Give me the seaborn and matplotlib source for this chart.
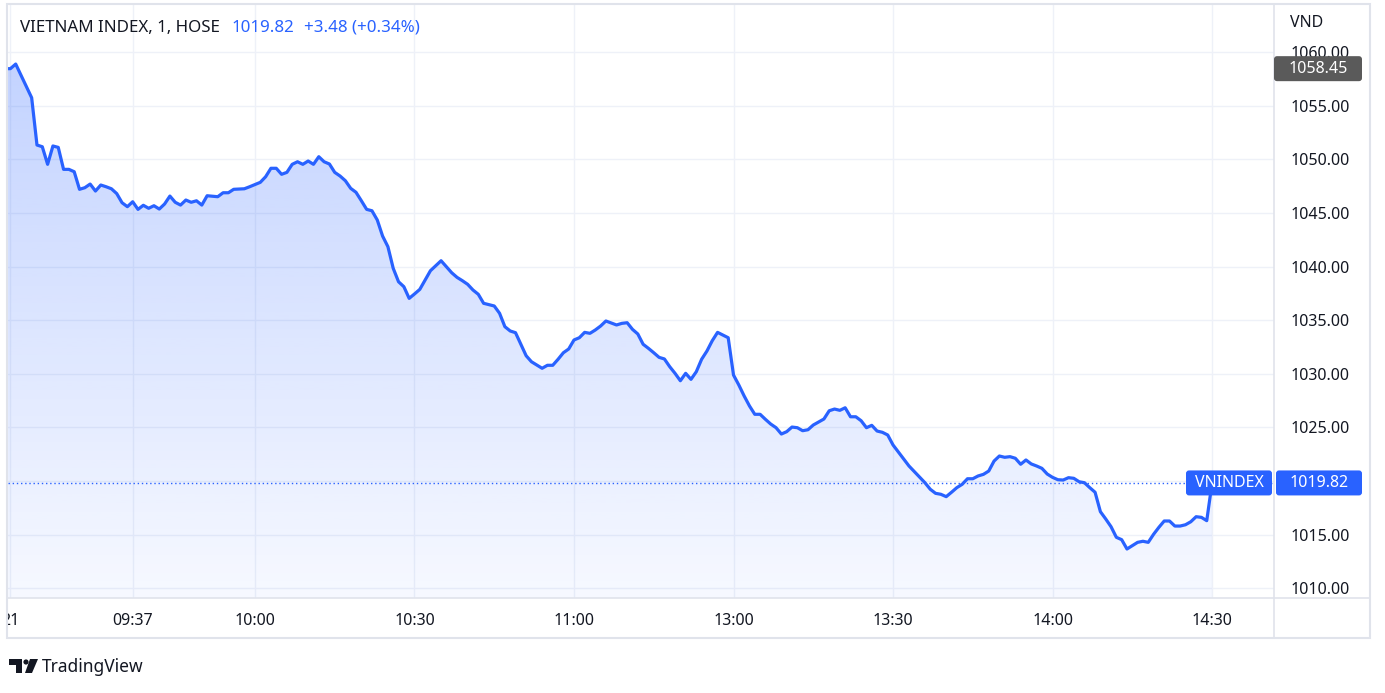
import numpy as np
import pandas as pd
import matplotlib
matplotlib.use('Agg')
import matplotlib.pyplot as plt
import seaborn as sns
from matplotlib.patches import Rectangle, FancyBboxPatch, Polygon, Circle, PathPatch
from matplotlib.lines import Line2D
from matplotlib.transforms import IdentityTransform

W, H = 1385, 693

# data (1 minute bars, only the visible corners of the line)
times = [
    '09:13', '09:14', '09:15', '09:18', '09:19', '09:20', '09:21', '09:22', '09:23', '09:24',
    '09:25', '09:26', '09:27', '09:28', '09:29', '09:30', '09:31', '09:32', '09:33', '09:34',
    '09:35', '09:36', '09:37', '09:38', '09:39', '09:40', '09:41', '09:42', '09:43', '09:44',
    '09:45', '09:46', '09:47', '09:48', '09:49', '09:50', '09:51', '09:53', '09:54', '09:55',
    '09:56', '09:58', '09:59', '10:01', '10:02', '10:03', '10:04', '10:05', '10:06', '10:07',
    '10:08', '10:09', '10:10', '10:11', '10:12', '10:13', '10:14', '10:15', '10:16', '10:17',
    '10:18', '10:19', '10:20', '10:21', '10:22', '10:23', '10:24', '10:25', '10:26', '10:27',
    '10:28', '10:29', '10:30', '10:31', '10:32', '10:33', '10:35', '10:37', '10:38', '10:39',
    '10:40', '10:41', '10:42', '10:43', '10:45', '10:46', '10:47', '10:48', '10:49', '10:51',
    '10:52', '10:54', '10:55', '10:56', '10:57', '10:58', '10:59', '11:00', '11:01', '11:02',
    '11:03', '11:04', '11:05', '11:06', '11:08', '11:09', '11:10', '11:11', '11:12', '11:13',
    '11:14', '11:15', '11:16', '11:17', '11:18', '11:19', '11:20', '11:21', '11:22', '11:23',
    '11:24', '11:25', '11:26', '11:27', '11:28', '11:29',
    '13:00', '13:01', '13:02', '13:03', '13:04', '13:05', '13:06', '13:07', '13:08', '13:09',
    '13:10', '13:11', '13:12', '13:13', '13:14', '13:15', '13:17', '13:18', '13:19', '13:20',
    '13:21', '13:22', '13:23', '13:24', '13:25', '13:26', '13:27', '13:28', '13:29', '13:30',
    '13:33', '13:36', '13:37', '13:38', '13:39', '13:40', '13:41', '13:42', '13:43', '13:44',
    '13:45', '13:46', '13:47', '13:48', '13:49', '13:50', '13:51', '13:52', '13:53', '13:54',
    '13:55', '13:56', '13:57', '13:58', '13:59', '14:00', '14:01', '14:02', '14:03', '14:04',
    '14:05', '14:06', '14:07', '14:08', '14:09', '14:10', '14:11', '14:12', '14:13', '14:14',
    '14:15', '14:16', '14:17', '14:18', '14:19', '14:20', '14:21', '14:22', '14:23', '14:24',
    '14:25', '14:26', '14:27', '14:28', '14:29', '14:30',
]
values = [
    1058.45, 1058.45, 1058.88, 1055.74, 1051.33, 1051.17, 1049.53, 1051.24, 1051.11, 1049.06,
    1049.06, 1048.84, 1047.20, 1047.35, 1047.69, 1047.04, 1047.60, 1047.44, 1047.25, 1046.80,
    1045.95, 1045.58, 1046.04, 1045.33, 1045.71, 1045.43, 1045.67, 1045.36, 1045.83, 1046.57,
    1045.99, 1045.73, 1046.20, 1045.99, 1046.13, 1045.73, 1046.60, 1046.51, 1046.88, 1046.88,
    1047.20, 1047.25, 1047.44, 1047.85, 1048.37, 1049.16, 1049.16, 1048.60, 1048.78, 1049.53,
    1049.77, 1049.53, 1049.84, 1049.53, 1050.24, 1049.77, 1049.56, 1048.78, 1048.44, 1048.00,
    1047.29, 1046.92, 1046.14, 1045.33, 1045.20, 1044.34, 1042.84, 1041.85, 1039.83, 1038.58,
    1038.12, 1037.03, 1037.44, 1037.87, 1038.74, 1039.61, 1040.54, 1039.42, 1038.99, 1038.68,
    1038.34, 1037.81, 1037.41, 1036.57, 1036.32, 1035.64, 1034.39, 1033.99, 1033.83, 1031.68,
    1031.12, 1030.51, 1030.79, 1030.79, 1031.35, 1031.96, 1032.31, 1033.15, 1033.36, 1033.86,
    1033.77, 1034.08, 1034.45, 1034.92, 1034.55, 1034.70, 1034.76, 1034.14, 1033.71, 1032.75,
    1032.37, 1031.96, 1031.53, 1031.38, 1030.66, 1030.04, 1029.35, 1030.04, 1029.48, 1030.19,
    1031.35, 1032.12, 1033.08, 1033.86, 1033.61, 1033.36,
    1029.88, 1028.95, 1027.93, 1027.00, 1026.22, 1026.22, 1025.75, 1025.31, 1024.97, 1024.38,
    1024.60, 1025.03, 1024.97, 1024.69, 1024.78, 1025.22, 1025.78, 1026.55, 1026.71, 1026.59,
    1026.83, 1025.99, 1025.99, 1025.62, 1024.97, 1025.19, 1024.66, 1024.54, 1024.29, 1023.36,
    1021.40, 1019.84, 1019.23, 1018.85, 1018.76, 1018.54, 1018.95, 1019.38, 1019.69, 1020.21,
    1020.21, 1020.47, 1020.62, 1020.93, 1021.86, 1022.33, 1022.21, 1022.27, 1022.12, 1021.56,
    1021.96, 1021.59, 1021.40, 1021.18, 1020.65, 1020.34, 1020.12, 1020.09, 1020.31, 1020.25,
    1019.93, 1019.84, 1019.38, 1018.95, 1017.14, 1016.46, 1015.74, 1014.75, 1014.53, 1013.66,
    1013.97, 1014.28, 1014.38, 1014.28, 1015.03, 1015.68, 1016.27, 1016.27, 1015.80, 1015.80,
    1015.92, 1016.20, 1016.67, 1016.61, 1016.30, 1019.82,
]

tick_times = ['09:14', '09:37', '10:00', '10:30', '11:00', '13:00', '13:30', '14:00', '14:30']
tick_labels = ['21', '09:37', '10:00', '10:30', '11:00', '13:00', '13:30', '14:00', '14:30']
y_ticks = [1010, 1015, 1020, 1025, 1030, 1035, 1040, 1045, 1050, 1055, 1060]

title_main = 'VIETNAM INDEX, 1, HOSE'
title_price = '1019.82'
title_change = '+3.48 (+0.34%)'
currency = 'VND'
series_name = 'VNINDEX'
last_price = 1019.82
badge_price = 1058.45

BLUE = '#2962ff'
TEXT = '#131722'
GRID = '#eef1f8'
BORDER = '#e0e3eb'


def session_minute(t):
    # lunch break removed: 13:00 follows 11:29 directly
    h, mi = map(int, t.split(':'))
    if h >= 13:
        return 150 + (h - 13) * 60 + mi
    return (h - 9) * 60 + mi


df = pd.DataFrame({'m': [session_minute(t) for t in times], 'price': values})

sns.set_theme(style='white')
plt.rcParams['font.family'] = ['Noto Sans', 'DejaVu Sans']

fig = plt.figure(figsize=(W / 100, H / 100), dpi=100)
fig.patch.set_facecolor('white')
ax = fig.add_axes([8 / W, 1 - 598 / H, (1274 - 8) / W, (598 - 4) / H])
ax.set_facecolor('white')

xlim = (13.55, 251.65)
ylim = (1009.09, 1064.48)

# grid
for v in y_ticks:
    ax.axhline(v, color=GRID, lw=1, zorder=0)
for t in tick_times:
    ax.axvline(session_minute(t), color=GRID, lw=1, zorder=0)

# gradient area under the line
area = ax.fill_between(df['m'], df['price'], ylim[0], color='none', lw=0)
clip = PathPatch(area.get_paths()[0], transform=ax.transData, fc='none', ec='none')
ax.add_patch(clip)
alpha = np.linspace(0.04, 0.28, 256)
grad = np.zeros((256, 1, 4))
grad[:, 0, 0] = 41 / 255
grad[:, 0, 1] = 98 / 255
grad[:, 0, 2] = 1.0
grad[:, 0, 3] = alpha
im = ax.imshow(grad, extent=[xlim[0], xlim[1], ylim[0], df['price'].max()],
               origin='lower', aspect='auto', zorder=1, interpolation='bilinear')
im.set_clip_path(clip)

sns.lineplot(data=df, x='m', y='price', ax=ax, color=BLUE, lw=2.3, zorder=3)

ax.axhline(last_price, color=BLUE, lw=1, ls=(0, (1, 2)), zorder=2)

ax.set_xlim(*xlim)
ax.set_ylim(*ylim)
ax.set_xlabel('')
ax.set_ylabel('')
for s in ax.spines.values():
    s.set_visible(False)

# the 1020.00 label sits under the last price badge, as in the original
ax.yaxis.tick_right()
ax.set_yticks(y_ticks)
ax.set_yticklabels(['' if abs(v - last_price) < 2.5 else f'{v:.2f}' for v in y_ticks])
ax.set_xticks([session_minute(t) for t in tick_times])
ax.set_xticklabels(tick_labels)
ax.tick_params(axis='y', length=0, pad=12, labelsize=11.5, labelcolor=TEXT)
ax.tick_params(axis='x', length=0, pad=11, labelsize=11.5, labelcolor=TEXT)

ident = IdentityTransform()


def px(x, y):
    return x, H - y


# hide the part of the first date label that falls outside the frame
fig.add_artist(Rectangle(px(0, 640), 7, 45, transform=ident, fc='white', ec='none', zorder=10))

# frame lines
fig.add_artist(Rectangle(px(7, 638), 1370 - 7, 634, transform=ident, fill=False,
                         ec=BORDER, lw=1.5, zorder=11))
fig.add_artist(Line2D([7, 1370], [H - 598, H - 598], transform=ident, color=BORDER, lw=1.2, zorder=11))
fig.add_artist(Line2D([1274, 1274], [H - 4, H - 638], transform=ident, color=BORDER, lw=1.2, zorder=11))


def badge(x0, x1, value, text, color):
    yc = ax.transData.transform((xlim[0], value))[1]
    fig.add_artist(FancyBboxPatch((x0, yc - 12.5), x1 - x0, 25, boxstyle='round,pad=0,rounding_size=3',
                                  transform=ident, fc=color, ec='none', zorder=12))
    fig.text((x0 + x1) / 2 / W, yc / H, text, ha='center', va='center', color='white',
             fontsize=11.5, zorder=13)


badge(1274, 1362, badge_price, f'{badge_price:.2f}', '#5a5a5a')
badge(1276, 1362, last_price, f'{last_price:.2f}', BLUE)
badge(1186, 1272, last_price, series_name, BLUE)

# header
fig.text(20 / W, 1 - 28 / H, title_main, ha='left', va='center', color=TEXT, fontsize=12.2)
fig.text(231 / W, 1 - 28 / H, title_price, ha='left', va='center', color=BLUE, fontsize=12.2)
fig.text(304 / W, 1 - 28 / H, title_change, ha='left', va='center', color=BLUE, fontsize=12.2)
fig.text(1290 / W, 1 - 23 / H, currency, ha='left', va='center', color=TEXT, fontsize=11.5)

# TradingView logo
fig.add_artist(Rectangle(px(9, 665), 13, 6, transform=ident, fc=TEXT, ec='none'))
fig.add_artist(Rectangle(px(16, 673), 6, 14, transform=ident, fc=TEXT, ec='none'))
fig.add_artist(Circle(px(26, 662), 2.6, transform=ident, fc=TEXT, ec='none'))
fig.add_artist(Polygon([px(30, 659), px(38, 659), px(32, 673), px(25, 673)], closed=True,
                       transform=ident, fc=TEXT, ec='none'))
fig.text(42 / W, 1 - 667 / H, 'TradingView', ha='left', va='center', color=TEXT, fontsize=12.5)

fig.savefig('out.png', dpi=100)
